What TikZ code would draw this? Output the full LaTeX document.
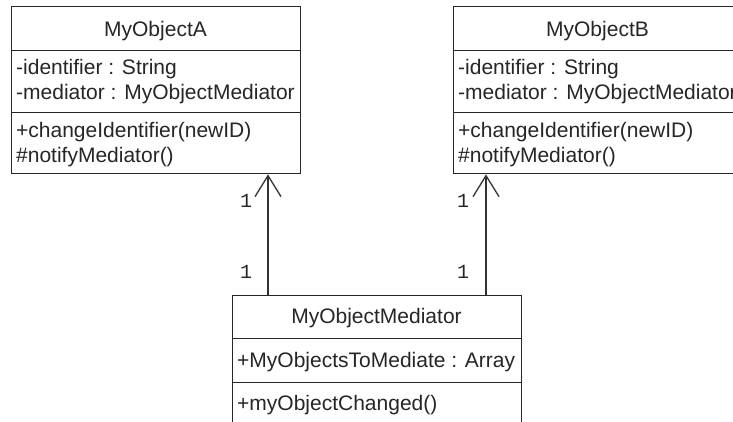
\documentclass[tikz,border=0pt]{standalone}
\usepackage{fontspec}
\setmainfont{Liberation Sans}
\newfontfamily\multfont{Liberation Mono}
\usetikzlibrary{arrows.meta}
\begin{document}
\begin{tikzpicture}[x=1pt,y=-1pt,
  compartment/.style={draw=black!85,line width=1.4pt,rectangle,inner sep=0pt,
    minimum width=289pt,anchor=north west},
  member/.style={anchor=base west,inner sep=0pt,font=\fontsize{21}{25}\selectfont,text=black!85},
  title/.style={anchor=base,inner sep=0pt,font=\fontsize{21}{25}\selectfont,text=black!85},
  mult/.style={anchor=base,inner sep=0pt,font=\multfont\fontsize{20}{24}\selectfont,text=black!85},
  assoc/.style={draw=black!80,line width=1.3pt,
    -{Straight Barb[length=21pt,width=26pt,line width=1.3pt]}}]
\useasboundingbox (0,0) rectangle (733,421);
\clip (0,0) rectangle (733,421);
\fill[white] (0,0) rectangle (733,421);

% MyObjectA
\node[compartment,minimum height=44pt] (Aname) at (11,6) {};
\node[compartment,minimum height=62pt] (Aattr) at (11,50) {};
\node[compartment,minimum height=61pt] (Ameth) at (11,112) {};
\node[title] (Atitle) at (155.5,36) {MyObjectA};
\node[member] (Aa1) at (16,74) {-identifier : String};
\node[member] (Aa2) at (16,99) {-mediator : MyObjectMediator};
\node[member] (Am1) at (16,137) {+changeIdentifier(newID)};
\node[member] (Am2) at (16,162) {\#notifyMediator()};

% MyObjectB
\node[compartment,minimum height=44pt] (Bname) at (453,6) {};
\node[compartment,minimum height=62pt] (Battr) at (453,50) {};
\node[compartment,minimum height=61pt] (Bmeth) at (453,112) {};
\node[title] (Btitle) at (597.5,36) {MyObjectB};
\node[member] (Ba1) at (458,74) {-identifier : String};
\node[member] (Ba2) at (458,99) {-mediator : MyObjectMediator};
\node[member] (Bm1) at (458,137) {+changeIdentifier(newID)};
\node[member] (Bm2) at (458,162) {\#notifyMediator()};

% MyObjectMediator
\node[compartment,minimum height=43pt] (Mname) at (232,295) {};
\node[compartment,minimum height=44pt] (Mattr) at (232,338) {};
\node[compartment,minimum height=60pt] (Mmeth) at (232,382) {};
\node[title] (Mtitle) at (376.5,323) {MyObjectMediator};
\node[member] (Ma1) at (237,367) {+MyObjectsToMediate : Array};
\node[member] (Mm1) at (237,410) {+myObjectChanged()};

% associations from the mediator to both objects
\coordinate (ax) at (268,0);
\coordinate (bx) at (486,0);
\draw[assoc] (Mname.north -| ax) -- (Ameth.south -| ax);
\draw[assoc] (Mname.north -| bx) -- (Bmeth.south -| bx);

% multiplicities
\node[mult] (mA1) at (246,207) {1};
\node[mult] (mA2) at (246,278) {1};
\node[mult] (mB1) at (463,207) {1};
\node[mult] (mB2) at (463,278) {1};
\end{tikzpicture}
\end{document}
